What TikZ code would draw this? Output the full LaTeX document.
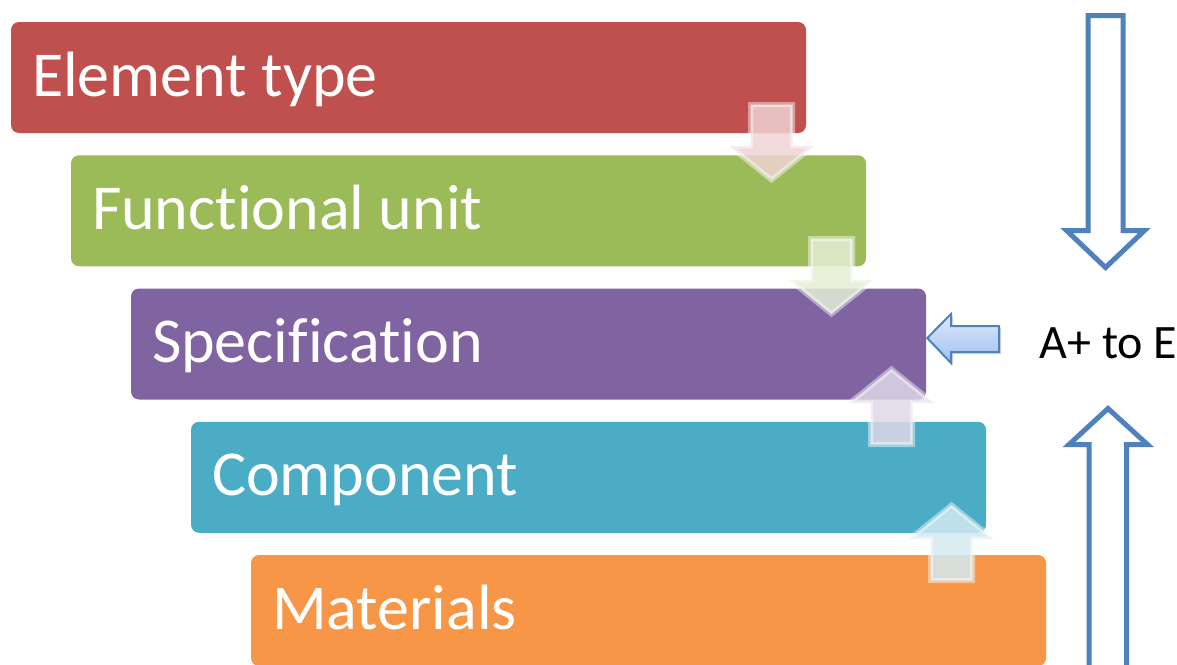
\documentclass[tikz,border=0pt]{standalone}
\usepackage{fontspec}
\setmainfont{Carlito}[Ligatures=NoCommon]
\usepackage{tikz}
\usetikzlibrary{shadows}
\definecolor{boxred}{RGB}{192,80,77}
\definecolor{boxgreen}{RGB}{155,187,89}
\definecolor{boxpurple}{RGB}{128,100,162}
\definecolor{boxteal}{RGB}{75,172,198}
\definecolor{boxorange}{RGB}{247,150,70}
\definecolor{lineblue}{RGB}{79,129,189}

\begin{document}
\begin{tikzpicture}[x=1pt,y=-1pt,
        levelbox/.style={rectangle,rounded corners=8pt,minimum width=795pt,minimum height=111pt,
            inner xsep=21pt,inner ysep=0pt,text width=753pt,align=flush left,text height=50pt,text depth=13pt,
            text=white,font=\fontsize{64}{72}\selectfont},
        steparrow/.style={draw=white,draw opacity=0.45,line width=5pt,fill opacity=0.85},
        bigarrow/.style={draw=lineblue,line width=5pt,fill=white}]
        \clip (0,0) rectangle (1177,664);
        % the five levels
        \foreach \name/\txt/\col [count=\i from 0] in {et/Element type/boxred,fu/Functional unit/boxgreen,spec/Specification/boxpurple,comp/Component/boxteal,mat/Materials/boxorange}
            \node[levelbox,fill=\col] (\name) at (408.5+60*\i,77.5+133.25*\i) {\txt};
        % see-through arrows between the levels
        \foreach \cx/\cy/\s/\col in {771.5/102/1/boxred,831.5/236/1/boxgreen,891.5/447/-1/boxpurple,951.5/583/-1/boxteal}
            \draw[steparrow,fill=\col!25,shift={(\cx,\cy)},yscale=\s] (-21,2.5)--(-21,44)--(-42,44)--(0,78)--(42,44)--(21,44)--(21,2.5)--cycle;
        % grade scale
        \node[anchor=base west,font=\fontsize{48}{54}\selectfont] (grade) at (1036,358) {A+ to E};
        \draw[draw=lineblue,line width=2pt,top color={rgb,255:red,222;green,234;blue,252},bottom color={rgb,255:red,160;green,192;blue,240},
            drop shadow={opacity=0.3,shadow xshift=2pt,shadow yshift=-2pt}]
            (spec.east)++(1,-6) coordinate (tip) (tip)--(951,314)--(951,326)--(999,326)--(999,352)--(951,352)--(951,363)--cycle;
        \draw[bigarrow](1088,15.5)--(1088,230.5)--(1066.5,230.5)--(1105.5,267.5)--(1144.5,230.5)--(1123,230.5)--(1123,15.5)--cycle;
        \draw[bigarrow](1089,680)--(1089,444.5)--(1069,444.5)--(1108,408.5)--(1147.5,444.5)--(1126.5,444.5)--(1126.5,680)--cycle;
    \end{tikzpicture}
\end{document}
